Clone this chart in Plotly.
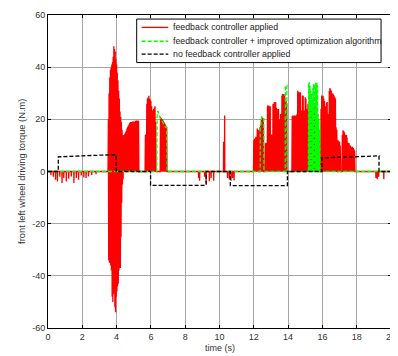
import plotly.graph_objects as go

# ---------------- data ----------------
x_ticks = [0, 2, 4, 6, 8, 10, 12, 14, 16, 18, 20]
x_labels = ["0", "2", "4", "6", "8", "10", "12", "14", "16", "18", "20"]
y_ticks = [-60, -40, -20, 0, 20, 40, 60]
y_labels = ["-60", "-40", "-20", "0", "20", "40", "60"]

series_names = ["feedback controller applied",
                "feedback controller + improved optimization algorithm",
                "no feedback controller applied"]

# red: feedback controller applied
red_t_a = [0.0, 0.16, 0.17, 0.18, 0.30, 0.31, 0.32, 0.43, 0.44, 0.45, 0.54, 0.55, 0.56,
           0.68, 0.69, 0.70, 0.81, 0.82, 0.83, 0.91, 0.92, 0.93, 1.06, 1.07, 1.08,
           1.20, 1.21, 1.22, 1.35, 1.36, 1.37, 1.50, 1.51, 1.52, 1.64, 1.65, 1.66,
           1.77, 1.78, 1.79, 1.93, 1.94, 1.95, 2.08, 2.09, 2.10, 2.21, 2.22, 2.23,
           2.35, 2.36, 2.37, 2.54, 2.55, 2.56, 2.79, 2.80, 2.81, 3.50]
red_v_a = [0, 0, -1.3, 0, 0, -2.0, 0, 0, -3.2, 0, 0, -3.8, 0,
           0, -2.0, 0, 0, -4.4, 0, 0, -2.5, 0, 0, -3.8, 0,
           0, -2.8, 0, 0, -1.9, 0, 0, -4.4, 0, 0, -2.5, 0,
           0, -3.2, 0, 0, -1.5, 0, 0, -2.3, 0, 0, -2.5, 0,
           0, -1.9, 0, 0, -1.3, 0, 0, -1.0, 0, 0]

red_b_start, red_b_step = 3.52, 0.02
red_v_b = [20, -34, 30, -35, 36, -35, 39, -36, 40, -38, 41, -48, 42, -50, 44, -45,
           48, -47, 47, -52, 46, -54, 43, -48, 41, -46, 38, -44, 35, -43, 31, -38,
           28, -37, 23, -37, 21, -25, 19, -12, 16, -5, 14, -3, 13, 0]

red_c_start, red_c_step = 4.44, 0.02
red_v_c = [14, 0, 14.5, 0, 15, 0, 15.5, 0, 16.5, 0, 17, 0, 17.5, 0, 18, 0, 18.5, 0,
           19, 0, 18.5, 0, 19, 0, 19, 0, 19.3, 0, 19, 0, 19, 0, 19.5, 0, 19.5, 0,
           19.6, 0, 19.5, 0, 19.6, 0, 19.5, 0]

red_d_start, red_d_step = 5.66, 0.02
red_v_d = [0, 14, 0, 14.5, 0, 26, 0, 28, 0, 28.5, 0, 29, 0, 28, 0, 27.5, 0, 27, 0,
           25, 0, 22, 0, 23.5, 0, 24, 0, 24.5, 0, 25, 0, 19, 0]

red_e_start, red_e_step = 6.54, 0.02
red_v_e = [0, 21, 0, 20.5, 0, 20, 0, 20, 0, 19.5, 0, 19, 0, 18.5, 0, 18, 0, 17.5, 0, 17, 0]

red_t_f = [8.77, 8.78, 8.79, 8.83, 8.84, 8.85, 9.12, 9.13, 9.14, 9.21, 9.22, 9.23,
           9.40, 9.41, 9.42, 9.50, 9.51, 9.52, 9.65, 9.66, 9.67,
           10.23, 10.24, 10.25, 10.29, 10.30, 10.31,
           10.46, 10.47, 10.48, 10.56, 10.57, 10.58, 10.66, 10.67, 10.68,
           10.75, 10.76, 10.77, 10.84, 10.85, 10.86]
red_v_f = [0, -2.5, 0, 0, -3.5, 0, 0, -2, 0, 0, -4.5, 0,
           0, -3.7, 0, 0, -2.5, 0, 0, -3.5, 0,
           0, 11.4, 0, 0, 21.5, 0,
           0, -2.5, 0, 0, -3, 0, 0, -3.5, 0,
           0, -2.5, 0, 0, -3.4, 0]

red_i_start, red_i_step = 11.98, 0.02
red_v_i = [
    0,
    12.0, 0, 12.5, 0, 12.7, 0, 13.3, 0, 12.0, 0, 16.5, 0, 16.0, 0, 15.8, 0,
    0, 0, 17.0, 0, 17.5, 0, 20.0, 0, 20.5, 0, 20.5, 0, 19.0, 0, 0, 0,
    0, 0, 10.8, 0, 11.0, 0, 10.8, 0, 25.3, 0, 25.0, 0, 25.3, 0, 24.5, 0,
    25.0, 0, 14.2, 0, 14.0, 0, 14.2, 0, 26.0, 0, 25.5, 0, 26.6, 0, 26.0, 0,
    26.6, 0, 24.4, 0, 24.0, 0, 21.0, 0, 24.0, 0, 18.0, 0, 20.0, 0, 22.0, 0,
    21.0, 0, 29.0, 0, 29.7, 0, 29.5, 0, 29.7, 0, 29.0, 0, 28.0, 0, 27.0, 0,
    26.0, 0, 0, 0, 0, 0, 0, 0, 0, 0, 0, 0, 0, 0, 0, 0,
    21.3, 0, 21.5, 0, 21.3, 0, 21.5, 0, 21.3, 0, 21.5, 0, 21.3, 0, 22.0, 0,
    31.0, 0, 30.5, 0, 30.4, 0, 30.0, 0, 30.4, 0, 23.4, 0, 23.0, 0, 29.1, 0,
    29.0, 0, 22.0, 0, 23.4, 0, 28.5, 0, 28.0, 0, 24.0, 0, 22.0, 0, 26.0, 0,
    23.0, 0, 25.0, 0, 21.0, 0, 27.0, 0, 24.0, 0, 22.0, 0, 26.0, 0, 24.0, 0,
    21.0, 0, 25.0, 0, 23.0, 0, 20.0, 0, 16.0, 0, 18.0, 0, 15.0, 0, 12.0, 0,
    0, 0, 0, 0, 24.0, 0, 29.1, 0, 28.5, 0, 29.0, 0, 28.0, 0, 27.0, 0,
    25.0, 0, 24.7, 0, 26.5, 0, 26.6, 0, 20.0, 0, 22.0, 0, 31.0, 0, 32.0, 0,
    31.5, 0, 31.0, 0, 29.1, 0, 30.0, 0, 29.5, 0, 29.1, 0, 28.5, 0, 28.0, 0,
    17.0, 0, 16.0, 0, 0, 0, 12.0, 0, 10.8, 0, 11.5, 0, 10.0, 0, 0, 0,
    0, 0, 14.0, 0, 15.8, 0, 15.5, 0, 15.0, 0, 14.2, 0, 14.0, 0, 14.0, 0,
    13.0, 0, 10.8, 0, 11.0, 0, 10.8, 0, 9.5, 0, 10.0, 0, 9.5, 0, 9.0, 0,
    9.5, 0, 9.0, 0, 8.5, 0, 8.0, 0, 0, 0]

red_t_j = [19.11, 19.12, 19.13, 19.19, 19.20, 19.21, 19.27, 19.28, 19.29,
           19.57, 19.58, 19.59, 20.0]
red_v_j = [0, -2.5, 0, 0, -3, 0, 0, -2, 0, 0, -3, 0, 0]

# green: feedback controller + improved optimization algorithm
green_t_a = [0.0]
green_v_a = [0]
green_b_start, green_b_step = 6.34, 0.02
green_v_b = [0, 21, 22.5, 23.2, 23, 22.5, 22, 21.5, 21.2, 21, 20.7, 20.5, 20.2, 20,
             19.7, 19.5, 19.2, 19, 18.7, 18.5, 18.2, 18, 17.8, 17.5, 17.3, 17, 17,
             17, 17, 17, 0]
green_t_c = [12.37, 12.38, 12.42, 12.46, 12.50, 12.54, 12.58, 12.59,
             13.83, 13.84, 13.93, 13.94]
green_v_c = [0, 17.7, 18, 20.9, 20.9, 20.9, 20.9, 0,
             0, 33, 33, 0]
green_d_start, green_d_step = 15.18, 0.02
green_v_d = [0, 34, 0, 34.2, 0, 33, 0, 31, 0, 30, 0, 28, 0, 32, 0, 33.5, 0, 30, 0,
             33.5, 0, 34, 0, 33.8, 0, 34, 0, 33, 0, 22, 0, 20, 0, 16, 0]
green_t_e = [20.0]
green_v_e = [0]

# black: no feedback controller applied
black_t = [0, 0.6, 0.6, 2.0, 3.6, 3.98, 3.98, 5.98, 5.98, 9.22, 9.22, 10.63, 10.63,
           13.96, 13.96, 15.98, 15.98, 19.3, 19.3, 20]
black_v = [0, 0, 5.6, 6.0, 6.4, 6.5, 0, 0, -5.3, -5.3, 0, 0, -5.4, -5.4,
           0, 0, 5.2, 6.0, 0, 0]


def grid(start, step, values):
    return [round(start + i * step, 4) for i in range(len(values))]


red_t = (red_t_a + grid(red_b_start, red_b_step, red_v_b) + grid(red_c_start, red_c_step, red_v_c)
         + grid(red_d_start, red_d_step, red_v_d) + grid(red_e_start, red_e_step, red_v_e)
         + red_t_f + grid(red_i_start, red_i_step, red_v_i) + red_t_j)
red_v = red_v_a + red_v_b + red_v_c + red_v_d + red_v_e + red_v_f + red_v_i + red_v_j

green_t = (green_t_a + grid(green_b_start, green_b_step, green_v_b) + green_t_c
           + grid(green_d_start, green_d_step, green_v_d) + green_t_e)
green_v = green_v_a + green_v_b + green_v_c + green_v_d + green_v_e

# ---------------- figure ----------------
RED, GREEN, BLACK = "#ff0000", "#00ff00", "#000000"
DASH = "4px,2px"

fig = go.Figure()
fig.add_trace(go.Scatter(x=red_t, y=red_v, mode="lines", name=series_names[0],
                         line=dict(color=RED, width=1.3, simplify=False),
                         showlegend=False, hoverinfo="skip"))
fig.add_trace(go.Scatter(x=green_t, y=green_v, mode="lines", name=series_names[1],
                         line=dict(color=GREEN, width=1.3, dash=DASH, simplify=False),
                         showlegend=False, hoverinfo="skip"))
fig.add_trace(go.Scatter(x=black_t, y=black_v, mode="lines", name=series_names[2],
                         line=dict(color=BLACK, width=1.3, dash=DASH, simplify=False),
                         showlegend=False, hoverinfo="skip"))

axis_common = dict(ticks="inside", ticklen=3, tickwidth=1, tickcolor="black",
                   showline=True, linecolor="black", linewidth=1, mirror="ticks",
                   showgrid=True, gridcolor="#a6a6a6", gridwidth=1, zeroline=False,
                   ticklabeloverflow="allow",
                   tickfont=dict(size=9, color="#333333"))

# the page body adds an 8px offset; the figure is sized so the plot area
# lands where it does in the reference
fig.update_layout(
    width=390, height=348,
    margin=dict(l=40, r=2, t=4, b=28),
    paper_bgcolor="white", plot_bgcolor="white",
    font=dict(family="Liberation Sans, Arial, sans-serif", size=9, color="#333333"),
    xaxis=dict(range=[0, 20], tickmode="array", tickvals=x_ticks, ticktext=x_labels,
               **axis_common),
    yaxis=dict(range=[-60, 60], tickmode="array", tickvals=y_ticks, ticktext=y_labels,
               **axis_common),
    showlegend=False,
)

# axis titles
fig.add_annotation(text="time (s)", xref="paper", yref="paper", x=0.5, y=-0.063,
                   xanchor="center", yanchor="middle", showarrow=False,
                   font=dict(size=9, color="#333333"))
fig.add_annotation(text="front left wheel driving torque (N.m)", xref="paper", yref="paper",
                   x=-0.0776, y=0.5, xanchor="center", yanchor="middle", textangle=-90,
                   showarrow=False, font=dict(size=9.3, color="#333333"))

# legend box (MATLAB style)
lx0, lx1, ly0, ly1 = 0.2586, 0.971, 0.848, 0.987
fig.add_shape(type="rect", xref="paper", yref="paper", x0=lx0, x1=lx1, y0=ly0, y1=ly1,
              line=dict(color="black", width=1), fillcolor="white", layer="above")
rows = [0.9604, 0.9161, 0.875]
colors = [RED, GREEN, BLACK]
dashes = ["solid", DASH, DASH]
for name, yy, c, d in zip(series_names, rows, colors, dashes):
    fig.add_shape(type="line", xref="paper", yref="paper", x0=0.273, x1=0.3506, y0=yy, y1=yy,
                  line=dict(color=c, width=1.3, dash=d), layer="above")
    fig.add_annotation(text=name, xref="paper", yref="paper", x=0.3592, y=yy,
                       xanchor="left", yanchor="middle", showarrow=False,
                       font=dict(size=8.8, color="#222222"))

fig.write_html("out.html")
